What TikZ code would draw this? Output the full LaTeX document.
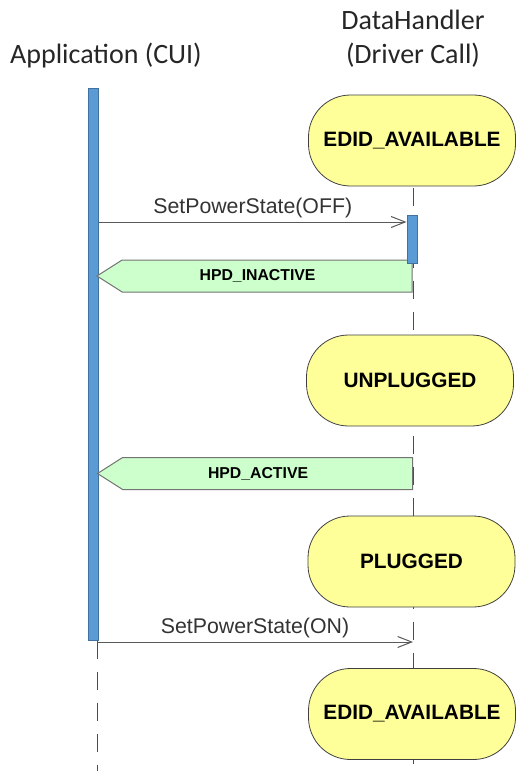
\documentclass[tikz,border=0pt]{standalone}
\usepackage{fontspec}
\setmainfont{Liberation Sans}
\newfontfamily\headfont{Carlito}
\usetikzlibrary{shapes.symbols, arrows.meta, backgrounds}
\definecolor{barblue}{RGB}{91,155,213}
\definecolor{barline}{RGB}{65,113,156}
\definecolor{stateyellow}{RGB}{255,255,153}
\definecolor{signalgreen}{RGB}{204,255,204}
\definecolor{msggray}{RGB}{89,89,89}

\begin{document}
\begin{tikzpicture}[x=1pt, y=-1pt,
    header/.style={font=\headfont\fontsize{28}{34}\selectfont, align=center, text=black!85, inner sep=0pt},
    actbar/.style={rectangle, draw=barline, fill=barblue, line width=1pt, minimum width=10pt, inner sep=0pt},
    state/.style={rectangle, rounded corners=42pt, draw=black!75, fill=stateyellow, line width=0.8pt,
                  minimum width=207pt, minimum height=91pt, font=\bfseries\fontsize{20.8}{24}\selectfont},
    hpd/.style={signal, signal to=west, signal pointer angle=65, draw=black!55, fill=signalgreen, line width=1pt,
                minimum width=315pt, minimum height=32pt, inner sep=0pt, anchor=east,
                font=\bfseries\fontsize{15.8}{18}\selectfont},
    msg/.style={draw=msggray, line width=1pt, -{Straight Barb[length=14pt, width=11pt]}},
    msglabel/.style={midway, anchor=base, yshift=9pt, font=\fontsize{21.3}{24}\selectfont, text=black!80},
    lifeline/.style={draw=black!70, line width=1pt, dash pattern=on 18pt off 13pt}]

  \useasboundingbox (0,0) rectangle (516,771);

  \node[header, anchor=base] (app) at (106,63) {Application (CUI)};
  \node[header, anchor=base] (dh) at (413,63) {DataHandler\\(Driver Call)};

  \coordinate (app-end) at (97,771);
  \coordinate (dh-end) at (413,771);

  \node[actbar, minimum height=552pt] (appbar) at (93.5,364) {};

  \node[state] (edid1) at (412,140.5) {EDID\_AVAILABLE};
  \node[state] (unplugged) at (410,380.5) {UNPLUGGED};
  \node[state] (plugged) at (411.5,561.5) {PLUGGED};
  \node[state] (edid2) at (412,714) {EDID\_AVAILABLE};

  \node[hpd] (inactive) at (412.5,276) {\hspace*{-19pt}HPD\_INACTIVE};
  \node[hpd] (active) at (413,473.5) {\hspace*{-19pt}HPD\_ACTIVE};

  \node[actbar, minimum height=48pt] (dhbar) at (412,239) {};

  \coordinate (off-y) at (0,222);
  \coordinate (on-y) at (0,642);
  \draw[msg] (appbar.east |- off-y) -- node[msglabel] {SetPowerState(OFF)} (dhbar.west |- off-y);
  \draw[msg] (app-end |- on-y) -- node[msglabel] {SetPowerState(ON)} (dh-end |- on-y);

  \begin{scope}[on background layer]
    \draw[lifeline] (dh-end |- edid1.north) -- (dh-end);
    \draw[lifeline] (app-end |- appbar.south) -- (app-end);
  \end{scope}
\end{tikzpicture}
\end{document}
